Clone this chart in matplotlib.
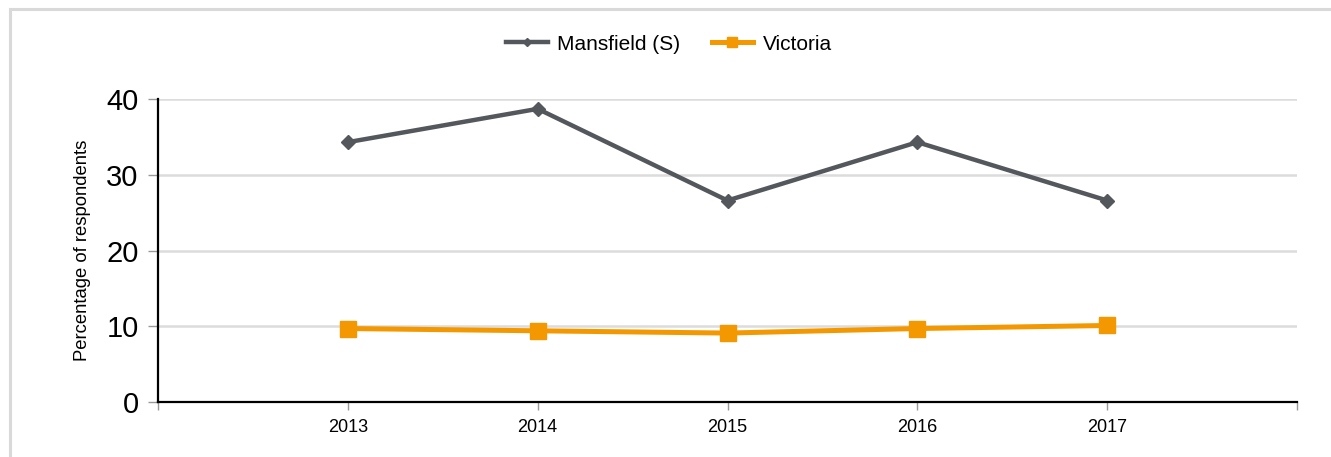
import matplotlib.pyplot as plt
from matplotlib.patches import Rectangle

plt.rcParams['font.family'] = ['Liberation Sans', 'DejaVu Sans']

years = [2013, 2014, 2015, 2016, 2017]
mansfield = [34.3, 38.7, 26.6, 34.3, 26.6]
victoria = [9.7, 9.4, 9.1, 9.7, 10.1]
year_labels = ['2013', '2014', '2015', '2016', '2017']

fig = plt.figure(figsize=(13.31, 4.57), dpi=100)
ax = fig.add_axes([158 / 1331, 1 - 402 / 457, (1297 - 158) / 1331, (402 - 99) / 457])

# grey frame round the chart (only top and left are in view)
fig.patches.append(Rectangle((10 / 1331, -0.2), 1.2, 1.2 - 9 / 457,
                             transform=fig.transFigure, fill=False,
                             edgecolor='#d9d9d9', linewidth=2.2))

ax.plot(years, mansfield, color='#54575b', linewidth=3.2, marker='D',
        markersize=7.5, label='Mansfield (S)', zorder=3, clip_on=False)
ax.plot(years, victoria, color='#f39800', linewidth=3.6, marker='s',
        markersize=11, label='Victoria', zorder=4, clip_on=False)

ax.set_xlim(2012, 2018)
ax.set_ylim(0, 40)
ax.set_yticks([0, 10, 20, 30, 40])
ax.set_xticks([2012, 2013, 2014, 2015, 2016, 2017, 2018])
ax.set_xticklabels([''] + year_labels + [''])

ax.grid(axis='y', color='#dcdcdc', linewidth=1.8, zorder=0)
ax.set_axisbelow(True)

for side in ['top', 'right']:
    ax.spines[side].set_visible(False)
ax.spines['left'].set_linewidth(1.6)
ax.spines['bottom'].set_linewidth(1.6)

ax.tick_params(axis='y', labelsize=21, length=7, width=1, color='#999999', pad=7)
ax.tick_params(axis='x', labelsize=13, length=6, width=1, color='#999999', pad=6)

ax.set_ylabel('Percentage of respondents', fontsize=13.3)
ax.yaxis.set_label_coords(-0.0588, 0.5)

leg = fig.legend(loc='center', bbox_to_anchor=(669 / 1331, 1 - 44 / 457), ncol=2,
                 frameon=False, fontsize=15, handlelength=2.0, columnspacing=1.5,
                 handletextpad=0.45, markerscale=0.6)

fig.savefig('out.png', dpi=100)
